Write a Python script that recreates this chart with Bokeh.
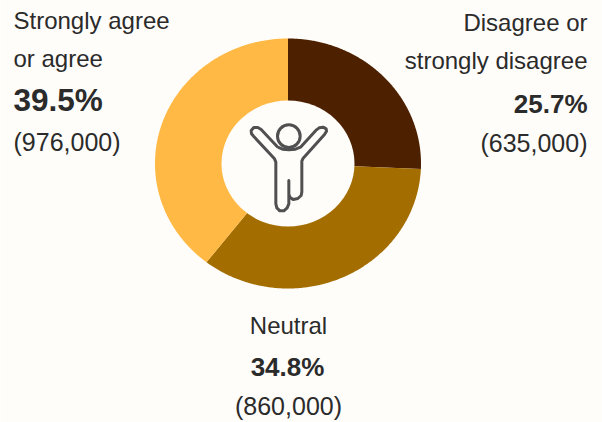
import numpy as np
from bokeh.embed import file_html
from bokeh.models import Range1d
from bokeh.plotting import figure
from bokeh.core.properties import value
from bokeh.resources import INLINE

# Survey responses, clockwise from twelve o'clock
categories = ["Disagree or strongly disagree", "Neutral", "Strongly agree or agree"]
percents = [25.7, 34.8, 39.5]
counts = ["(635,000)", "(860,000)", "(976,000)"]
colors = ["#4D2000", "#A36D00", "#FFB944"]

W, H = 602, 422
BG = "#FFFDFA"
INK = "#2B2B2B"


def Y(py):
    return H - np.asarray(py, dtype=float)


p = figure(width=W, height=H, output_backend="svg", toolbar_location=None,
           x_range=Range1d(0, W), y_range=Range1d(0, H),
           min_border=0, outline_line_color=None,
           background_fill_color=BG, border_fill_color=BG)
p.axis.visible = False
p.grid.visible = False

# Donut slices: the ring is slightly wider than tall, so each is a polygon
cx, cy, rx, ry = 287.5, 163, 133, 125
fractions = np.array(percents) / sum(percents)
edges = np.concatenate([[0], np.cumsum(fractions)]) * 2 * np.pi
xs, ys = [], []
for a, b in zip(edges[:-1], edges[1:]):
    t = np.linspace(a, b, 200)
    xs.append(np.concatenate([[cx], cx + rx * np.sin(t)]))
    ys.append(np.concatenate([[Y(cy)], Y(cy - ry * np.cos(t))]))
p.patches(xs, ys, fill_color=colors, line_color=None)
p.ellipse(x=cx, y=float(Y(cy)), width=133, height=126, fill_color=BG, line_color=None)


# Icon: a figure with raised arms, traced in a 3x grid anchored at (200, 90)
def gx(v):
    return [200 + a / 3 for a in v]


def gy(v):
    return [float(Y(90 + a / 3)) for a in v]


ICON = "#505050"
body_x = [232, 182, 172, 160, 152, 153, 160, 222, 226, 226, 229, 238, 250, 260, 265, 265, 265,
          268, 278, 292, 302, 304, 304, 308, 372, 378, 377, 368, 356, 348, 300, 285, 265, 246, 232]
body_y = [170, 117, 111, 111, 120, 130, 138, 205, 215, 340, 352, 361, 361, 352, 340, 270, 310,
          320, 327, 324, 315, 305, 212, 203, 132, 122, 115, 110, 112, 118, 170, 176, 178, 176, 170]
p.line(gx(body_x), gy(body_y), line_color=ICON, line_width=3, line_join="round")
p.ellipse(x=200 + 265 / 3, y=float(Y(90 + 137 / 3)), width=68 / 3, height=68 / 3,
          fill_color=None, line_color=ICON, line_width=3)


def label(x, py, text, size, align="left", bold=False):
    p.text(x=[x], y=[float(Y(py))], text=[text], text_align=align, text_baseline="middle",
           text_font=value("Liberation Sans"), text_font_size=f"{size}px",
           text_font_style="bold" if bold else "normal", text_color=INK)


# Left block (y values are text centres)
label(13, 20, "Strongly agree", 24)
label(13, 58, "or agree", 24)
label(13, 99, f"{percents[2]}%", 31.5, bold=True)
label(13, 141, counts[2], 25)

# Right block
label(587, 22, "Disagree or", 24, "right")
label(587, 60, "strongly disagree", 24, "right")
label(587, 103, f"{percents[0]}%", 26, "right", bold=True)
label(587, 142, counts[0], 25, "right")

# Bottom block
label(288, 325, "Neutral", 24, "center")
label(287, 366, f"{percents[1]}%", 26, "center", bold=True)
label(288, 405, counts[1], 25, "center")

open("out.html", "w").write(file_html(p, INLINE))
